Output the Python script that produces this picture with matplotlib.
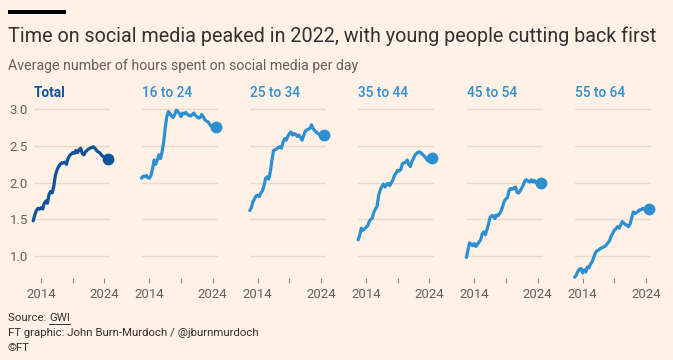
import matplotlib
matplotlib.use("Agg")
import matplotlib.pyplot as plt
import numpy as np

# quarterly readings, Q4 2012 .. Q3 2024
quarters = np.arange(2012.75, 2024.51, 0.25)

total = [1.48, 1.56, 1.62, 1.65, 1.64, 1.66, 1.64, 1.72, 1.75, 1.72, 1.84, 1.88,
         1.86, 1.95, 2.10, 2.17, 2.22, 2.25, 2.27, 2.27, 2.28, 2.25, 2.33, 2.37,
         2.39, 2.41, 2.40, 2.44, 2.41, 2.45, 2.47, 2.40, 2.38, 2.42, 2.44, 2.46,
         2.47, 2.48, 2.49, 2.47, 2.44, 2.42, 2.41, 2.38, 2.36, 2.35, 2.33, 2.33]
age_16_24 = [2.06, 2.09, 2.08, 2.10, 2.07, 2.06, 2.10, 2.19, 2.31, 2.25, 2.31, 2.38,
             2.33, 2.42, 2.55, 2.75, 2.90, 2.97, 2.94, 2.91, 2.89, 2.93, 2.99, 2.97,
             2.94, 2.90, 2.95, 2.94, 2.96, 2.93, 2.92, 2.91, 2.93, 2.95, 2.92, 2.90,
             2.88, 2.89, 2.93, 2.90, 2.86, 2.84, 2.83, 2.80, 2.77, 2.78, 2.75, 2.76]
age_25_34 = [1.62, 1.66, 1.74, 1.78, 1.82, 1.83, 1.81, 1.86, 1.89, 1.96, 2.06, 2.08,
             2.05, 2.15, 2.31, 2.44, 2.45, 2.46, 2.48, 2.49, 2.47, 2.55, 2.60, 2.58,
             2.63, 2.67, 2.69, 2.65, 2.67, 2.66, 2.63, 2.65, 2.62, 2.58, 2.64, 2.70,
             2.72, 2.73, 2.74, 2.79, 2.74, 2.71, 2.69, 2.67, 2.66, 2.65, 2.66, 2.65]
age_35_44 = [1.22, 1.28, 1.38, 1.35, 1.37, 1.39, 1.41, 1.47, 1.50, 1.52, 1.60, 1.64,
             1.68, 1.83, 1.90, 1.95, 1.98, 1.94, 1.98, 1.99, 1.96, 2.00, 2.04, 2.10,
             2.13, 2.17, 2.16, 2.18, 2.26, 2.27, 2.28, 2.31, 2.25, 2.22, 2.29, 2.33,
             2.38, 2.40, 2.42, 2.42, 2.40, 2.38, 2.36, 2.33, 2.30, 2.31, 2.33, 2.34]
age_45_54 = [0.98, 1.08, 1.18, 1.16, 1.14, 1.17, 1.13, 1.16, 1.19, 1.22, 1.30, 1.33,
             1.29, 1.36, 1.44, 1.53, 1.55, 1.55, 1.51, 1.56, 1.55, 1.58, 1.62, 1.68,
             1.75, 1.78, 1.80, 1.90, 1.92, 1.91, 1.93, 1.94, 1.87, 1.86, 1.89, 1.93,
             1.97, 2.03, 2.04, 2.02, 2.01, 2.04, 2.01, 2.03, 2.00, 2.01, 1.99, 1.99]
age_55_64 = [0.71, 0.74, 0.79, 0.82, 0.83, 0.77, 0.81, 0.78, 0.85, 0.84, 0.89, 0.92,
             0.98, 1.04, 1.07, 1.08, 1.10, 1.11, 1.12, 1.13, 1.15, 1.18, 1.21, 1.27,
             1.31, 1.35, 1.37, 1.40, 1.38, 1.42, 1.47, 1.45, 1.43, 1.42, 1.40, 1.44,
             1.52, 1.60, 1.58, 1.59, 1.61, 1.63, 1.63, 1.65, 1.64, 1.65, 1.64, 1.64]

panel_names = ["Total", "16 to 24", "25 to 34", "35 to 44", "45 to 54", "55 to 64"]
panel_series = [total, age_16_24, age_25_34, age_35_44, age_45_54, age_55_64]
y_ticks = [1.0, 1.5, 2.0, 2.5, 3.0]

BG = "#fff1e5"
NAVY = "#0f5499"
SKY = "#2e8fd0"
GREY = "#66605c"
GRID = "#e9dacc"
TXT = "#33302e"

plt.rcParams["font.family"] = ["Roboto", "DejaVu Sans"]

W, H = 673, 360
fig = plt.figure(figsize=(W / 100, H / 100), dpi=100, facecolor=BG)

# black bar top-left
fig.add_artist(plt.Rectangle((8 / W, 1 - 14 / H), 58 / W, 4 / H,
                             transform=fig.transFigure, color="black", lw=0))

fig.text(8 / W, 1 - 36 / H, "Time on social media peaked in 2022, with young people cutting back first",
         fontsize=14.2, color=TXT, va="center", ha="left")
fig.text(8 / W, 1 - 66 / H, "Average number of hours spent on social media per day",
         fontsize=10.2, color=GREY, va="center", ha="left")

ax_w = 76 / W
bottom = 1 - 278 / H
top = 1 - 105 / H
ax_h_px = 278 - 105
for i, (name, vals) in enumerate(zip(panel_names, panel_series)):
    left = (33.5 + i * 108.3) / W
    ax = fig.add_axes([left, bottom, ax_w, top - bottom])
    ax.set_facecolor(BG)
    col = NAVY if i == 0 else SKY
    ax.set_xlim(2012.8, 2024.8)
    ax.set_ylim(0.70, 3.06)
    for yv in y_ticks:
        ax.axhline(yv, color=GRID, lw=1.0, zorder=0)
    ax.plot(quarters, vals, color=col, lw=2.3, solid_joinstyle="round",
            solid_capstyle="round", zorder=3, clip_on=False)
    ax.plot(quarters[-1], vals[-1], "o", color=col, ms=7.5, zorder=4, clip_on=False)
    for s in ax.spines.values():
        s.set_visible(False)
    ax.set_xticks([2014, 2019, 2024])
    ax.set_xticklabels(["2014", "", "2024"])
    ax.tick_params(axis="x", length=3.6, width=0.8, color="#8f8a86", labelsize=9.5,
                   labelcolor=GREY, pad=3.6)
    ax.set_yticks(y_ticks)
    if i == 0:
        ax.set_yticklabels([f"{v:.1f}" for v in y_ticks])
        ax.tick_params(axis="y", length=0, labelsize=9.5, labelcolor=GREY, pad=4)
    else:
        ax.set_yticklabels([])
        ax.tick_params(axis="y", length=0)
    ax.text(0, 1 + (105 - 93) / ax_h_px, name, transform=ax.transAxes,
            fontsize=9.8, fontweight="bold" if i == 0 else "medium", color=col,
            ha="left", va="center")

src = fig.text(8 / W, 1 - 318 / H, "Source: ", fontsize=8.2, color=TXT, va="center")
fig.canvas.draw()
bb = src.get_window_extent()
gwi = fig.text(bb.x1 / W, 1 - 318 / H, "GWI", fontsize=8.2, color=TXT, va="center")
fig.canvas.draw()
gb = gwi.get_window_extent()
fig.add_artist(plt.Line2D([gb.x0 / W, gb.x1 / W], [(gb.y0 - 1) / H] * 2,
                          transform=fig.transFigure, color=TXT, lw=0.7))
fig.text(8 / W, 1 - 333 / H, "FT graphic: John Burn-Murdoch / @jburnmurdoch",
         fontsize=8.2, color=TXT, va="center")
fig.text(8 / W, 1 - 348 / H, "\u00a9FT", fontsize=8.2, color=TXT, va="center")

fig.savefig("out.png", dpi=100, facecolor=BG)
